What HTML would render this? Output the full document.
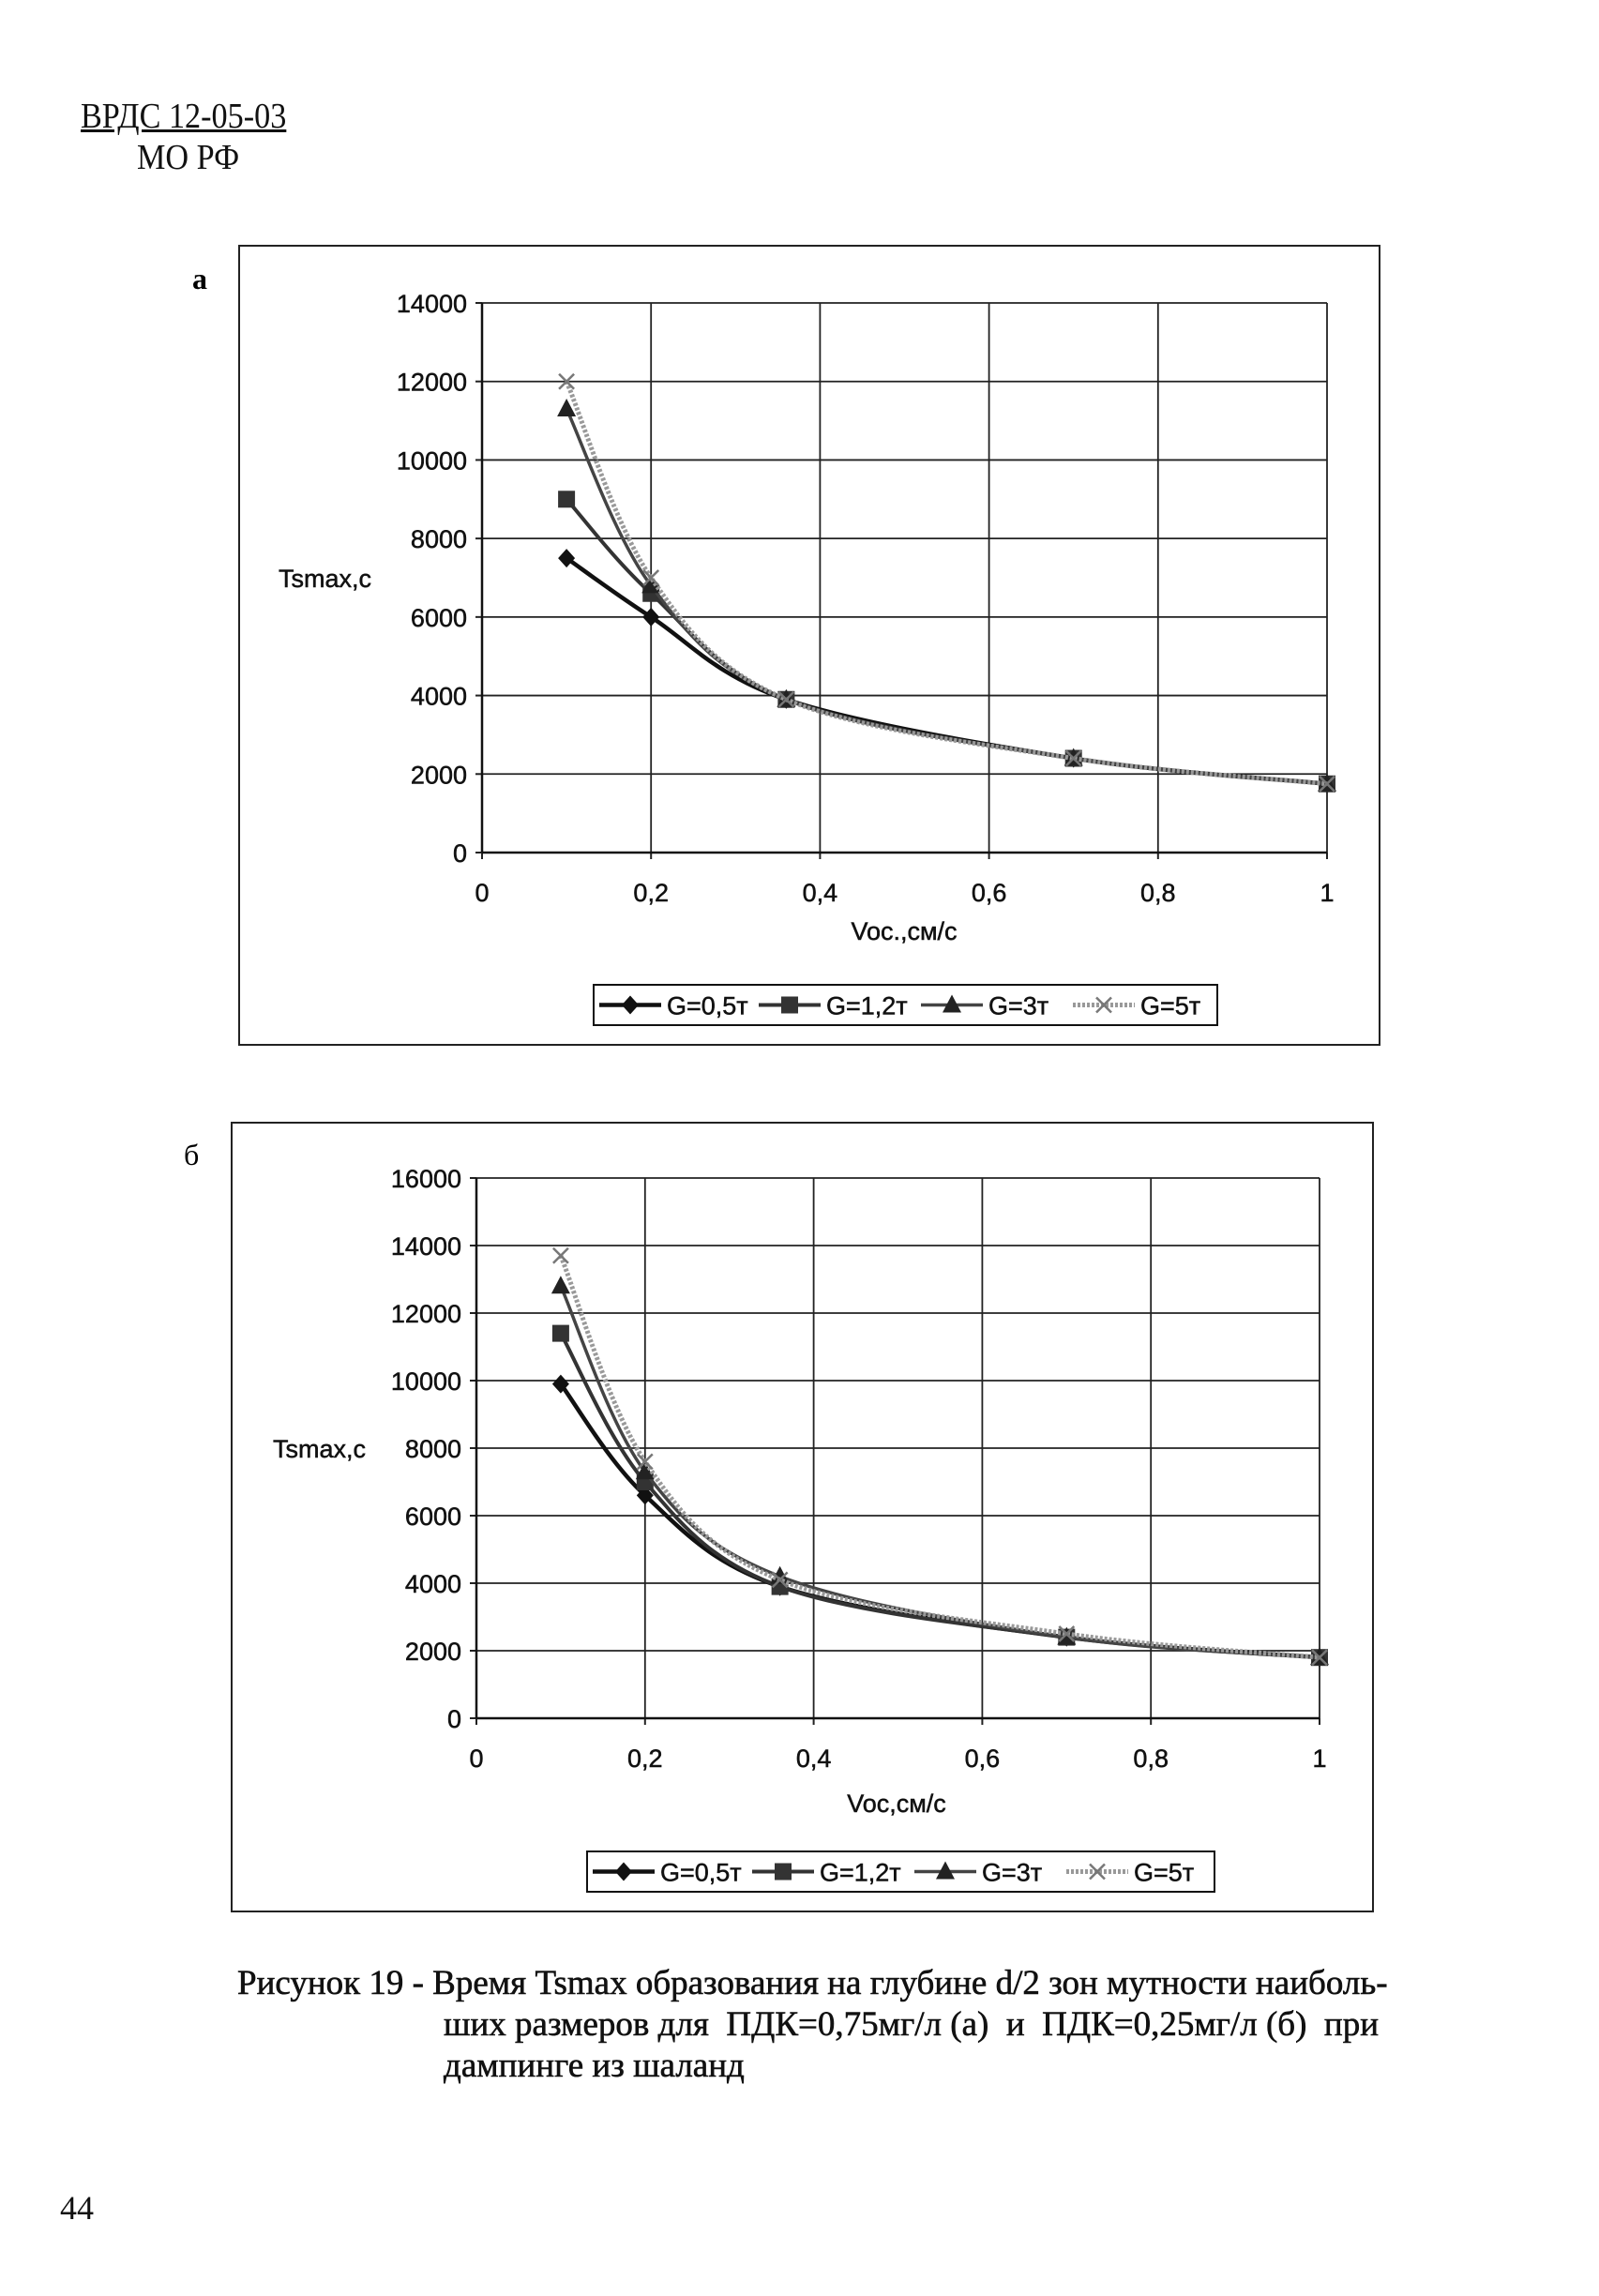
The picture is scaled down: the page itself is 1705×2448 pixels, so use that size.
<!DOCTYPE html>
<html><head><meta charset="utf-8"><style>
body{margin:0;background:#fff;}
#page{position:relative;width:1705px;height:2448px;background:#fff;overflow:hidden;font-family:"Liberation Serif","Noto Serif CJK SC",serif;}
.t{position:absolute;white-space:nowrap;color:#111;}
</style></head><body>
<div id="page">
<div class="t" style="left:86px;top:102px;font-size:38px;text-decoration:underline;transform:scaleX(0.9);transform-origin:left;">ВРДС 12-05-03</div>
<div class="t" style="left:146px;top:146px;font-size:38px;transform:scaleX(0.9);transform-origin:left;">МО РФ</div>
<svg id="svg" width="1705" height="2448" style="position:absolute;left:0;top:0"></svg>
<div class="t" style="left:253px;top:2093px;font-size:37px;line-height:44px;transform:scaleX(1.0);transform-origin:left;-webkit-text-stroke:0.6px #111;">Рисунок 19 - Время Tsmax образования на глубине d/2 зон мутности наиболь-<br><span style="padding-left:220px">ших размеров для &nbsp;ПДК=0,75мг/л (а) &nbsp;и &nbsp;ПДК=0,25мг/л (б) &nbsp;при</span><br><span style="padding-left:220px">дампинге из шаланд</span></div>
<div class="t" style="left:64px;top:2333px;font-size:36px;">44</div>
</div>
<script>
const xVals=[0.1,0.2,0.36,0.7,1];
const seriesNames=["G=0,5т","G=1,2т","G=3т","G=5т"];
const aG05=[7500,6000,3900,2400,1750];
const aG12=[9000,6600,3900,2400,1750];
const aG3=[11300,6800,3900,2400,1750];
const aG5=[12000,7000,3900,2400,1750];
const bG05=[9900,6600,3900,2400,1800];
const bG12=[11400,7000,3900,2400,1800];
const bG3=[12800,7300,4200,2400,1800];
const bG5=[13700,7600,4100,2500,1800];
const xTicks=["0","0,2","0,4","0,6","0,8","1"];
const aYTicks=["0","2000","4000","6000","8000","10000","12000","14000"];
const bYTicks=["0","2000","4000","6000","8000","10000","12000","14000","16000"];

const NS="http://www.w3.org/2000/svg";
const svg=document.getElementById('svg');
function mk(tag,attrs,parent){const e=document.createElementNS(NS,tag);for(const k in attrs)e.setAttribute(k,attrs[k]);(parent||svg).appendChild(e);return e;}
function txt(x,y,s,size,anchor,parent,weight){const e=mk('text',{x:x,y:y,'font-size':size,'text-anchor':anchor||'middle','font-family':'Liberation Sans, sans-serif','fill':'#111','font-weight':weight||'normal','stroke':'#111','stroke-width':0.5},parent);e.textContent=s;return e;}
function smooth(pts){let d=`M${pts[0][0]},${pts[0][1]}`;for(let i=0;i<pts.length-1;i++){const p0=pts[i-1]||pts[i],p1=pts[i],p2=pts[i+1],p3=pts[i+2]||p2;const c1=[p1[0]+(p2[0]-p0[0])/6,p1[1]+(p2[1]-p0[1])/6],c2=[p2[0]-(p3[0]-p1[0])/6,p2[1]-(p3[1]-p1[1])/6];d+=` C${c1[0]},${c1[1]} ${c2[0]},${c2[1]} ${p2[0]},${p2[1]}`;}return d;}
function marker(g,type,x,y){
 if(type==0)mk('polygon',{points:`${x},${y-10} ${x+9},${y} ${x},${y+10} ${x-9},${y}`,fill:'#111'},g);
 else if(type==1)mk('rect',{x:x-9,y:y-9,width:18,height:18,fill:'#333'},g);
 else if(type==2)mk('polygon',{points:`${x},${y-11} ${x+10},${y+8} ${x-10},${y+8}`,fill:'#222'},g);
 else {mk('path',{d:`M${x-8},${y-8}L${x+8},${y+8}M${x-8},${y+8}L${x+8},${y-8}`,stroke:'#777','stroke-width':2.5},g);}
}
const styles=[{c:'#111',w:4.5},{c:'#333',w:4},{c:'#444',w:3.5},{c:'#999',w:5,dash:'3 2'}];
function chart(cfg){
 const g=mk('g',{});
 mk('rect',{x:cfg.box[0],y:cfg.box[1],width:cfg.box[2],height:cfg.box[3],fill:'none',stroke:'#222','stroke-width':2},g);
 const X=v=>cfg.px0+(cfg.px1-cfg.px0)*v, Y=v=>cfg.py0+(cfg.py1-cfg.py0)*v/cfg.ymax;
 const grid=mk('g',{},g);
 cfg.yTicks.forEach((t,i)=>{const v=+t;const y=Y(v);mk('line',{x1:cfg.px0,x2:cfg.px1,y1:y,y2:y,stroke:'#222','stroke-width':1.8},grid);mk('line',{x1:cfg.px0-7,x2:cfg.px0,y1:y,y2:y,stroke:'#222','stroke-width':2},grid);
  const l=txt(cfg.px0-16,y+10,t,27,'end',g);});
 xTicks.forEach((t,i)=>{const x=X(i*0.2);mk('line',{x1:x,x2:x,y1:cfg.py1,y2:cfg.py0,stroke:'#222','stroke-width':1.8},grid);mk('line',{x1:x,x2:x,y1:cfg.py0,y2:cfg.py0+7,stroke:'#222','stroke-width':2},grid);
  const l=txt(x,cfg.py0+52,t,27,'middle',g);});
 mk('line',{x1:cfg.px0,x2:cfg.px0,y1:cfg.py1,y2:cfg.py0,stroke:'#111','stroke-width':2.5},g);
 mk('line',{x1:cfg.px0,x2:cfg.px1,y1:cfg.py0,y2:cfg.py0,stroke:'#111','stroke-width':2.5},g);
 const yt=txt(cfg.ylab[0],cfg.ylab[1],'Tsmax,c',27,'start',g);
 const xt=txt(cfg.xlab[0],cfg.xlab[1],cfg.xtitle,27,'middle',g);
 cfg.series.forEach((s,si)=>{const sg=mk('g',{},g);
  
  
  const pts=xVals.map((x,i)=>[X(x),Y(s[i])]);
  const st=styles[si];const p=mk('path',{d:smooth(pts),fill:'none',stroke:st.c,'stroke-width':st.w},sg);if(st.dash)p.setAttribute('stroke-dasharray',st.dash);
  pts.forEach(q=>marker(sg,si,q[0],q[1]));});
 const lg=mk('g',{},g);
 
 
 const L=cfg.leg;mk('rect',{x:L[0],y:L[1],width:L[2],height:L[3],fill:'#fff',stroke:'#111','stroke-width':2},lg);
 const offs=[6,176,349,511];const cy=L[1]+L[3]/2;
 seriesNames.forEach((n,i)=>{const x0=L[0]+offs[i];const st=styles[i];const ln=mk('line',{x1:x0,x2:x0+66,y1:cy,y2:cy,stroke:st.c,'stroke-width':st.w},lg);if(st.dash)ln.setAttribute('stroke-dasharray',st.dash);marker(lg,i,x0+33,cy);
  const e=txt(x0+72,cy+10,n,27,'start',lg);});
 const pl=mk('text',{x:cfg.panel[0],y:cfg.panel[1],'font-size':32,'font-family':'Liberation Serif, serif','font-weight':cfg.panelBold?'bold':'normal'},g);pl.textContent=cfg.panel[2];
 
}
chart({name:'chart-a',box:[255,262,1216,852],px0:514,px1:1415,py0:909,py1:323,ymax:14000,yTicks:aYTicks,series:[aG05,aG12,aG3,aG5],ylab:[297,626],xlab:[964,1002],xtitle:'Voc.,см/с',leg:[633,1050,665,43],panel:[205,308,'а'],panelBold:true});
chart({name:'chart-b',box:[247,1197,1217,841],px0:508,px1:1407,py0:1832,py1:1256,ymax:16000,yTicks:bYTicks,series:[bG05,bG12,bG3,bG5],ylab:[291,1554],xlab:[956,1932],xtitle:'Voc,см/с',leg:[626,1974,669,43],panel:[196,1242,'б']});
</script>
</body></html>
